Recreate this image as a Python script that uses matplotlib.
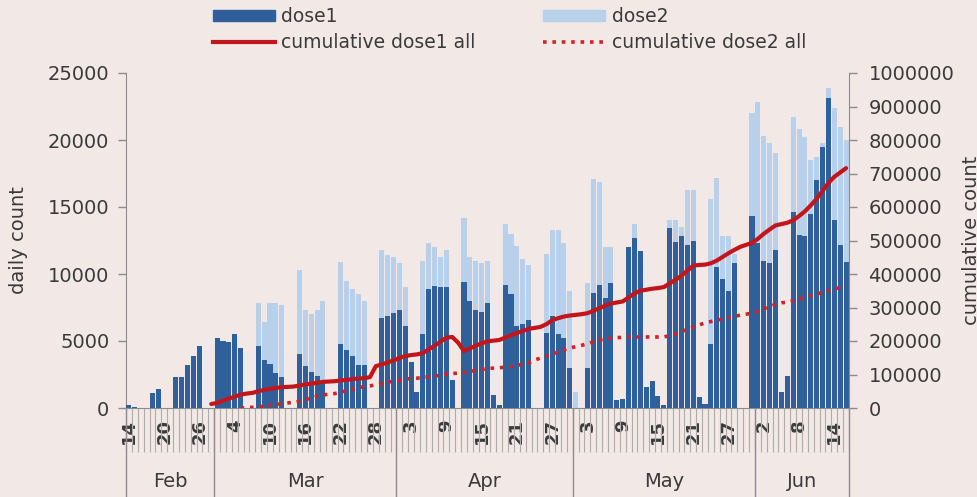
import numpy as np
import pandas as pd
import matplotlib
matplotlib.use('Agg')
import matplotlib.pyplot as plt
import matplotlib.transforms as mtransforms
from matplotlib.patches import Patch
from matplotlib.lines import Line2D

plt.rcParams['font.family'] = ['DejaVu Sans']

############################# data ###########################
dates = pd.date_range('2021-02-14', '2021-06-16', freq='D')
nan = np.nan

# daily counts, one row per week (Sun..Sat)
dose1 = [200, 100, 0, 0, 1100, 1400, 0,
         0, 2300, 2300, 3200, 3900, 4600, 0,
         0, 5200, 5000, 4900, 5500, 4500, 0,
         0, 4600, 3600, 3300, 2600, 2300, 0,
         0, 4000, 3100, 2700, 2400, 2000, 0,
         0, 4800, 4300, 3900, 3200, 3200, 0,
         0, 6700, 6900, 7100, 7300, 6100, 3400,
         1200, 5500, 8900, 9100, 9000, 9000, 2100,
         0, 9400, 8000, 7300, 7200, 7800, 1000,
         250, 9200, 8500, 6100, 6300, 6600, 0,
         0, 5600, 6900, 5500, 5200, 3000, 0,
         0, 3000, 8600, 9200, 8200, 9300, 600,
         700, 12000, 12700, 11700, 1600, 2000, 900,
         200, 13400, 12400, 12800, 12200, 12500, 800,
         300, 4800, 10500, 9600, 8700, 10800, 0,
         0, 14300, 12300, 11000, 10800, 11800, 1200,
         2400, 14600, 12900, 12800, 14500, 17000, 19500,
         23100, 14000, 12200, 10900]

dose2 = [0, 0, 0, 0, 0, 0, 0,
         0, 0, 0, 0, 0, 0, 0,
         0, 0, 0, 0, 0, 0, 0,
         0, 7800, 6400, 7800, 7800, 7700, 0,
         0, 10300, 7300, 7000, 7300, 8000, 0,
         0, 10900, 9500, 8900, 8500, 8000, 0,
         0, 11800, 11400, 11300, 10800, 9000, 0,
         0, 11000, 12300, 12000, 11300, 11800, 0,
         0, 14200, 11300, 11000, 10800, 11000, 0,
         0, 13700, 13000, 12100, 11100, 10700, 0,
         0, 11500, 13300, 13300, 12300, 8700, 1200,
         0, 9300, 17100, 16900, 12000, 12000, 0,
         0, 12000, 13700, 11700, 0, 0, 0,
         0, 14000, 14000, 13500, 16300, 16300, 0,
         0, 15600, 17200, 12800, 12800, 11500, 0,
         0, 22000, 22800, 20300, 19800, 19000, 0,
         0, 21700, 20800, 20200, 18500, 18700, 19800,
         23900, 22400, 21000, 20000]

cum_dose1 = [nan] * 14 + [
    12000, 15000, 22000, 28000, 34000, 40000, 43000,
    45000, 50000, 54000, 57000, 60000, 62000, 63000,
    64000, 67000, 70000, 73000, 75000, 78000, 79000,
    80000, 82000, 84000, 86000, 88000, 89000, 92000,
    125000, 130000, 136000, 142000, 149000, 155000, 158000,
    160000, 164000, 175000, 186000, 198000, 210000, 212000,
    195000, 170000, 178000, 186000, 193000, 199000, 201000,
    203000, 210000, 217000, 224000, 230000, 236000, 239000,
    242000, 250000, 262000, 268000, 273000, 276000, 278000,
    280000, 283000, 290000, 298000, 305000, 312000, 315000,
    318000, 330000, 342000, 350000, 353000, 356000, 358000,
    361000, 372000, 383000, 395000, 410000, 425000, 427000,
    428000, 432000, 440000, 451000, 462000, 472000, 481000,
    487000, 493000, 505000, 520000, 533000, 545000, 549000,
    553000, 560000, 573000, 587000, 605000, 625000, 648000,
    672000, 690000, 703000, 716000]

cum_dose2 = [nan] * 19 + [
    0, 1000,
    2000, 4000, 6000, 8000, 10000, 13000, 15000,
    17000, 20000, 25000, 30000, 35000, 39000, 41000,
    43000, 47000, 52000, 56000, 60000, 64000, 66000,
    69000, 73000, 77000, 80000, 83000, 86000, 88000,
    89000, 91000, 93000, 95000, 98000, 101000, 103000,
    104000, 106000, 109000, 112000, 115000, 118000, 119000,
    120000, 122000, 124000, 127000, 131000, 135000, 143000,
    149000, 155000, 161000, 167000, 173000, 179000, 183000,
    187000, 192000, 197000, 203000, 206000, 208000, 210000,
    211000, 212000, 212000, 212000, 212000, 212000, 212000,
    212000, 216000, 222000, 228000, 235000, 242000, 248000,
    254000, 258000, 262000, 266000, 270000, 274000, 277000,
    280000, 283000, 289000, 296000, 303000, 309000, 314000,
    316000, 320000, 325000, 330000, 335000, 340000, 345000,
    350000, 355000, 360000, 365000]

months = ['Feb', 'Mar', 'Apr', 'May', 'Jun']

############################# plot ###########################
BG = '#f2e9e7'
DARK = '#30609c'
LIGHT = '#b9d0ea'
RED = '#c3161c'
RED2 = '#d42027'
TXT = '#3a3a3a'
GRAY = '#8c8c8c'

x = np.arange(len(dates))

fig = plt.figure(figsize=(9.77, 4.97), dpi=100, facecolor=BG)
ax = fig.add_axes([126 / 977, 1 - 408 / 497, 723 / 977, 335 / 497])
ax.set_facecolor(BG)

ax.bar(x, dose2, width=0.86, color=LIGHT, zorder=2)
ax.bar(x, dose1, width=0.86, color=DARK, zorder=3)

ax.set_xlim(-0.5, len(dates) - 0.5)
ax.set_ylim(0, 25000)
ax.set_yticks(range(0, 25001, 5000))
ax.tick_params(axis='y', labelsize=14, colors=TXT, length=6, width=1,
               color=GRAY, pad=6)

# day labels every 6 days
ticks = x[::6]
ax.set_xticks(ticks)
ax.set_xticklabels([str(d.day) for d in dates[::6]], rotation=90,
                   fontsize=13, fontweight='bold', color=TXT)
ax.tick_params(axis='x', length=0, pad=8)

for s in ['top', 'right']:
    ax.spines[s].set_visible(False)
for s in ['left', 'bottom']:
    ax.spines[s].set_color(GRAY)

# category separators (hatched strip) and month boundaries
trans = mtransforms.blended_transform_factory(ax.transData, ax.transAxes)
ax.vlines(np.arange(-0.5, len(dates)), -0.13, 0, transform=trans,
          colors='#adadad', lw=0.8, clip_on=False)
month_idx = np.array([d.month for d in dates])
bounds = [-0.5] + list(np.where(np.diff(month_idx) != 0)[0] + 0.5) + [len(dates) - 0.5]
ax.vlines(bounds, -0.265, 0, transform=trans, colors=GRAY, lw=1, clip_on=False)
for m, a, b in zip(months, bounds[:-1], bounds[1:]):
    ax.text((a + b) / 2, -0.22, m, transform=trans, ha='center', va='center',
            fontsize=14, color=TXT)

ax.set_ylabel('daily count', fontsize=14, color=TXT, labelpad=14)

ax2 = ax.twinx()
ax2.plot(x, cum_dose1, color=RED, lw=3, solid_capstyle='round', zorder=4)
ax2.plot(x, cum_dose2, color=RED2, lw=2.6, linestyle=(0, (1, 1.6)), zorder=4)
ax2.set_ylim(0, 1000000)
ax2.set_yticks(range(0, 1000001, 100000))
ax2.set_yticklabels([str(v) for v in range(0, 1000001, 100000)])
ax2.tick_params(axis='y', labelsize=14, colors=TXT, length=6, width=1,
                color=GRAY, pad=8)
for s in ['top', 'left', 'bottom']:
    ax2.spines[s].set_visible(False)
ax2.spines['right'].set_color(GRAY)

fig.text(962 / 977, 0.5 * (1 - 408 / 497) + 0.5 * (1 - 73 / 497), 'cumulative count',
         rotation=90, ha='left', va='center', fontsize=14, color=TXT)

handles = [Patch(color=DARK), Line2D([], [], color=RED, lw=3),
           Patch(color=LIGHT), Line2D([], [], color=RED2, lw=2.6, linestyle=(0, (1, 1.6)))]
labels = ['dose1', 'cumulative dose1 all', 'dose2', 'cumulative dose2 all']
fig.legend(handles, labels, ncol=2, loc='upper left', bbox_to_anchor=(196 / 977, 1.02),
           frameon=False, fontsize=13.5, handlelength=3.3, handleheight=0.5,
           handletextpad=0.35, columnspacing=3.6, labelspacing=0.4, labelcolor=TXT)

plt.savefig('out.png', dpi=100, facecolor=BG)
